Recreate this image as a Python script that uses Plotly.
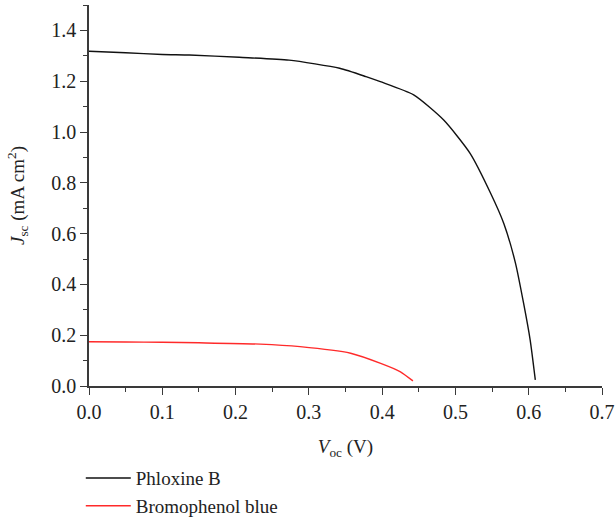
import plotly.graph_objects as go

# Phloxine B
v_phl = [0.0, 0.05, 0.10, 0.137, 0.205, 0.273, 0.342, 0.378, 0.3975, 0.443, 0.484,
         0.520, 0.548, 0.566, 0.582, 0.593, 0.602, 0.609]
j_phl = [1.318, 1.312, 1.305, 1.303, 1.294, 1.283, 1.251, 1.218, 1.198, 1.146, 1.047,
         0.916, 0.759, 0.640, 0.483, 0.326, 0.181, 0.024]

# Bromophenol blue
v_bro = [0.0, 0.05, 0.10, 0.15, 0.2336, 0.288, 0.357, 0.398, 0.425, 0.442]
j_bro = [0.174, 0.173, 0.172, 0.170, 0.165, 0.155, 0.129, 0.089, 0.056, 0.020]

series_names = ["Phloxine B", "Bromophenol blue"]

FONT = "Liberation Serif"
AX = "#3a3a3a"

fig = go.Figure()
fig.add_trace(go.Scatter(x=v_phl, y=j_phl, mode="lines", name=series_names[0],
                         line=dict(color="#111111", width=1.4, shape="spline", smoothing=0.6)))
fig.add_trace(go.Scatter(x=v_bro, y=j_bro, mode="lines", name=series_names[1],
                         line=dict(color="#ff2a2a", width=1.4, shape="spline", smoothing=0.6)))

fig.update_layout(
    width=615, height=531, autosize=False,
    margin=dict(l=89, r=13, t=5, b=145),
    paper_bgcolor="white", plot_bgcolor="white",
    font=dict(family=FONT, size=20, color="#222222"),
    showlegend=True,
    legend=dict(x=-0.016, y=-0.192, xanchor="left", yanchor="top",
                font=dict(family=FONT, size=19, color="#222222"),
                tracegroupgap=0, itemwidth=45, bgcolor="rgba(0,0,0,0)"),
    xaxis=dict(range=[0, 0.7], tickvals=[0, 0.1, 0.2, 0.3, 0.4, 0.5, 0.6, 0.7],
               tickformat=".1f", ticks="outside", ticklen=7, tickwidth=1.3, tickcolor=AX,
               showline=True, linecolor=AX, linewidth=1.5, showgrid=False, zeroline=False,
               automargin=False,
               minor=dict(dtick=0.05, ticks="outside", ticklen=4, tickwidth=1.3, tickcolor=AX),
               title=dict(text="<i>V</i><sub>oc</sub> (V)", standoff=18,
                          font=dict(family=FONT, size=19))),
    yaxis=dict(range=[0, 1.5], tickvals=[0, 0.2, 0.4, 0.6, 0.8, 1.0, 1.2, 1.4],
               tickformat=".1f", ticks="outside", ticklen=7, tickwidth=1.3, tickcolor=AX,
               showline=True, linecolor=AX, linewidth=1.5, showgrid=False, zeroline=False,
               automargin=False,
               minor=dict(dtick=0.1, ticks="outside", ticklen=4, tickwidth=1.3, tickcolor=AX),
               title=dict(text="<i>J</i><sub>sc</sub> (mA cm<sup>2</sup>)", standoff=22,
                          font=dict(family=FONT, size=19))),
)

fig.write_html("out.html",
               config={"responsive": False, "displayModeBar": False},
               post_script="document.body.style.margin='0';")
